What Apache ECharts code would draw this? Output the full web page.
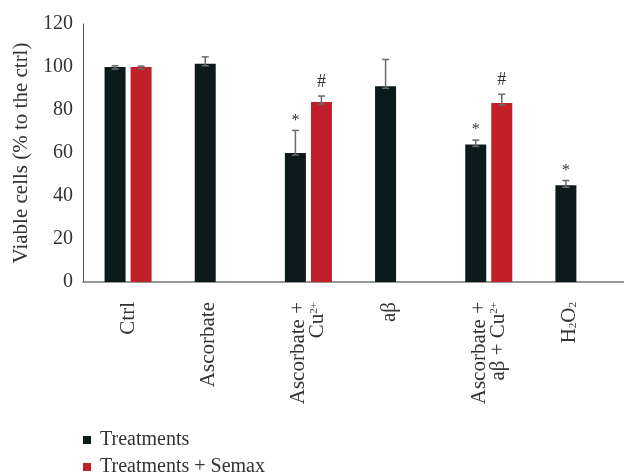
<!DOCTYPE html>
<html>
<head>
<meta charset="utf-8">
<script src="https://cdn.jsdelivr.net/npm/echarts@6/dist/echarts.min.js"></script>
<style>
  html, body { margin: 0; padding: 0; background: #ffffff; }
  #chart { width: 624px; height: 473px; }
</style>
</head>
<body>
<div id="chart"></div>
<script>
// Treatment groups along the x axis
const categories = ['Ctrl', 'Ascorbate', 'Ascorbate + Cu2+', 'aβ', 'Ascorbate + aβ + Cu2+', 'H2O2'];
// Axis tick labels (rich text for super/subscripts, wrapped like the source labels)
const tickLabels = [
  'Ctrl',
  'Ascorbate\n ',
  'Ascorbate +\nCu{sup|2+}',
  'aβ\n ',
  'Ascorbate +\naβ + Cu{sup|2+}',
  'H{sub|2}O{sub|2}\n '
];
const yTicks = [0, 20, 40, 60, 80, 100, 120];
const seriesNames = ['Treatments', 'Treatments + Semax'];

// Viable cells (% of control), mean and error
const treatments = [100, 101.5, 60, 91, 64, 45];
const treatmentsErr = [0.6, 3.2, 10.5, 12.5, 2, 2.2];
const semax = [100, null, 83.7, null, 83.3, null];
const semaxErr = [0.4, null, 2.8, null, 4, null];

// Significance marks
const treatmentsSig = ['', '', '*', '', '*', '*'];
const semaxSig = ['', '', '#', '', '#', ''];

const FONT = '"Liberation Serif", "DejaVu Serif", serif';
const BLACK = '#0d1a1b';
const RED = '#c1202a';
const ERR = '#6b6b6b';

function errorData(vals, errs, sig) {
  const out = [];
  vals.forEach((v, i) => {
    if (v !== null) out.push([i, v, errs[i], sig[i]]);
  });
  return out;
}

const errTreat = errorData(treatments, treatmentsErr, treatmentsSig);
const errSemax = errorData(semax, semaxErr, semaxSig);

// Error bar (upper whisker with caps) plus significance mark above it
function errorRenderer(offset, rows) {
  return function (params, api) {
    const idx = api.value(0);
    const v = api.value(1);
    const e = api.value(2);
    const mark = rows[params.dataIndexInside][3];
    const x = api.coord([idx, 0])[0] + offset;
    const yTop = api.coord([idx, v + e])[1];
    const yBase = api.coord([idx, v])[1] + 2;
    const lineStyle = { stroke: ERR, lineWidth: 1.5 };
    const children = [
      { type: 'line', shape: { x1: x, y1: yTop, x2: x, y2: yBase }, style: lineStyle },
      { type: 'line', shape: { x1: x - 3.5, y1: yTop, x2: x + 3.5, y2: yTop }, style: lineStyle },
      { type: 'line', shape: { x1: x - 3.5, y1: yBase, x2: x + 3.5, y2: yBase }, style: lineStyle }
    ];
    if (mark) {
      children.push({
        type: 'text',
        style: {
          text: mark,
          x: x,
          y: yTop - (mark === '*' ? 10 : 14),
          align: 'center',
          verticalAlign: 'middle',
          fill: '#333',
          font: (mark === '*' ? '16px ' : '18px ') + FONT
        }
      });
    }
    return { type: 'group', children: children };
  };
}

function legendFor(name, top) {
  return {
    left: 83,
    top: top,
    padding: 0,
    itemWidth: 8,
    itemHeight: 8,
    icon: 'rect',
    data: [name],
    textStyle: { fontFamily: FONT, fontSize: 20, lineHeight: 20, color: '#333', padding: [0, 0, 0, 4] }
  };
}

const chart = echarts.init(document.getElementById('chart'), null, { renderer: 'canvas' });
chart.setOption({
  animation: false,
  backgroundColor: '#ffffff',
  textStyle: { fontFamily: FONT },
  grid: { left: 83, top: 24, bottom: 191, width: 545, containLabel: false },
  legend: [legendFor(seriesNames[0], 430), legendFor(seriesNames[1], 457)],
  xAxis: {
    type: 'category',
    data: categories,
    axisLine: { show: true, lineStyle: { color: '#777', width: 1.5 } },
    axisTick: { show: false },
    axisLabel: {
      rotate: 90,
      margin: 20,
      interval: 0,
      fontFamily: FONT,
      fontSize: 21,
      lineHeight: 19,
      color: '#333',
      formatter: (val, i) => tickLabels[i],
      rich: {
        sup: { fontSize: 11, fontFamily: FONT, color: '#333', verticalAlign: 'top', lineHeight: 19 },
        sub: { fontSize: 11, fontFamily: FONT, color: '#333', verticalAlign: 'bottom', lineHeight: 19 }
      }
    }
  },
  yAxis: {
    type: 'value',
    min: yTicks[0],
    max: yTicks[yTicks.length - 1],
    interval: 20,
    name: 'Viable cells (% to the ctrl)',
    nameLocation: 'middle',
    nameGap: 41,
    nameTextStyle: { fontFamily: FONT, fontSize: 21, color: '#333' },
    axisLine: { show: true, lineStyle: { color: '#555', width: 1 } },
    axisTick: { show: false },
    splitLine: { show: false },
    axisLabel: { margin: 10, fontFamily: FONT, fontSize: 20, color: '#333' }
  },
  series: [
    {
      name: seriesNames[0],
      type: 'bar',
      data: treatments,
      barWidth: 21,
      barGap: '24%',
      itemStyle: { color: BLACK }
    },
    {
      name: seriesNames[1],
      type: 'bar',
      data: semax,
      barWidth: 21,
      barGap: '24%',
      itemStyle: { color: RED }
    },
    {
      type: 'custom',
      name: 'err-treatments',
      data: errTreat,
      encode: { x: 0, y: 1 },
      renderItem: errorRenderer(-13, errTreat),
      z: 10,
      silent: true
    },
    {
      type: 'custom',
      name: 'err-semax',
      data: errSemax,
      encode: { x: 0, y: 1 },
      renderItem: errorRenderer(13, errSemax),
      z: 10,
      silent: true
    }
  ]
});
</script>
</body>
</html>
